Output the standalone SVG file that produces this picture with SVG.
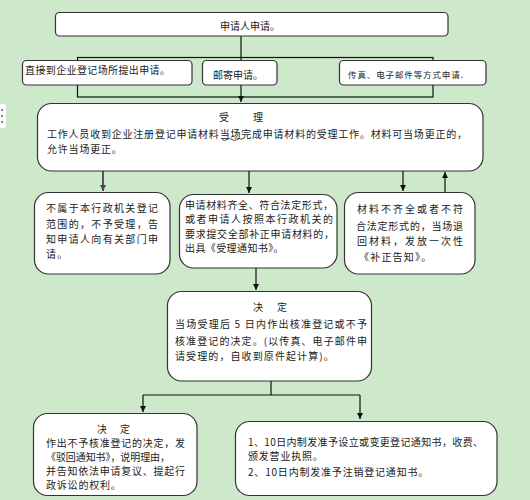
<svg xmlns="http://www.w3.org/2000/svg" width="530" height="500" viewBox="0 0 530 500">
<style>
text{font-family:"Noto Sans CJK SC","Noto Sans",sans-serif;font-size:10px;fill:#222;}
.box{fill:#fff;stroke:#333;stroke-width:1.2;}
.ln{stroke:#111;stroke-width:1.2;fill:none;}
.sm{font-size:8.5px;}
</style>
<defs>
<marker id="ah" markerWidth="6" markerHeight="6" refX="6" refY="3" orient="auto" markerUnits="userSpaceOnUse"><path d="M0,0 L6,3 L0,6 z" fill="#111"/></marker>
<marker id="ahg" markerWidth="6" markerHeight="6" refX="6" refY="3" orient="auto" markerUnits="userSpaceOnUse"><path d="M0,0 L6,3 L0,6 z" fill="#444"/></marker>
</defs>
<rect x="0" y="0" width="530" height="500" fill="#cee8cb"/>
<g id="handle"><rect x="-4" y="104" width="10" height="24" rx="3" fill="#fff"/><circle cx="2" cy="110" r="1.2" fill="#888"/><circle cx="2" cy="116" r="1.2" fill="#888"/><circle cx="2" cy="122" r="1.2" fill="#888"/></g>
<g id="connectors">
<path class="ln" d="M241,36 V102" marker-end="url(#ah)"/>
<path d="M103,171 V191" stroke="#555" stroke-width="2" fill="none" marker-end="url(#ahg)"/>
<path class="ln" d="M249,171 V193" marker-end="url(#ah)"/>
<path class="ln" d="M403,171 V191" marker-end="url(#ah)"/>
<path class="ln" d="M445,192 V172" marker-end="url(#ah)"/>
<path class="ln" d="M256,268 V290" marker-end="url(#ah)"/>
<path class="ln" d="M271,381 V395 M143,395 H360"/>
<path class="ln" d="M143,395 V412" marker-end="url(#ah)"/>
<path class="ln" d="M360,395 V419" marker-end="url(#ah)"/>
</g>
<rect id="group-frame" x="77.5" y="57.5" width="355.5" height="39.5" fill="none" stroke="#111" stroke-width="1.2"/>
<g id="apply">
<rect class="box" x="55.5" y="12.5" width="392.5" height="23.5" rx="4"/>
<text x="250" y="30" text-anchor="middle">申请人申请。</text>
</g>
<g id="direct">
<rect class="box" x="22.5" y="60.5" width="169.5" height="24.5" rx="4"/>
<text x="25" y="74" textLength="145" lengthAdjust="spacing">直接到企业登记场所提出申请。</text>
</g>
<g id="mail">
<rect class="box" x="202.5" y="60.5" width="74.5" height="24.5" rx="4"/>
<text x="213" y="79">邮寄申请。</text>
</g>
<g id="fax">
<rect class="box" x="339.5" y="60.5" width="146.5" height="24.5" rx="4"/>
<text class="sm" x="348" y="78" textLength="115" lengthAdjust="spacing">传真、电子邮件等方式申请.</text>
</g>
<g id="accept">
<rect class="box" x="37.5" y="103.5" width="445.5" height="67.5" rx="14"/>
<text x="219" y="121" letter-spacing="1.33">受　　理</text>
<text x="47" y="138" textLength="420" lengthAdjust="spacing">工作人员收到企业注册登记申请材料当场完成申请材料的受理工作。材料可当场更正的，</text>
<text x="47" y="153" letter-spacing="0.8">允许当场更正。</text>
<path d="M222,139.5 q2.5,2 5,0 t5,0 t5,0 t5,0" fill="none" stroke="#222" stroke-width="0.8"/>
</g>
<g id="reject">
<rect class="box" x="34.5" y="192.5" width="135.5" height="81.5" rx="14"/>
<text x="46" y="212" textLength="112" lengthAdjust="spacing">不属于本行政机关登记</text>
<text x="46" y="228" textLength="112" lengthAdjust="spacing">范围的，不予受理，告</text>
<text x="46" y="243" textLength="112" lengthAdjust="spacing">知申请人向有关部门申</text>
<text x="46" y="258" letter-spacing="1.2">请。</text>
</g>
<g id="complete">
<rect class="box" x="179.5" y="194.5" width="157.5" height="73.5" rx="14"/>
<text x="185" y="209" textLength="148" lengthAdjust="spacing">申请材料齐全、符合法定形式，</text>
<text x="185" y="223" textLength="148" lengthAdjust="spacing">或者申请人按照本行政机关的</text>
<text x="185" y="238" textLength="149" lengthAdjust="spacing">要求提交全部补正申请材料的，</text>
<text x="185" y="252" letter-spacing="0.4">出具《受理通知书》。</text>
</g>
<g id="incomplete">
<rect class="box" x="344.5" y="192.5" width="130.5" height="81.5" rx="14"/>
<text x="357" y="213" textLength="106" lengthAdjust="spacing">材料不齐全或者不符</text>
<text x="356" y="230" textLength="107" lengthAdjust="spacing">合法定形式的，当场退</text>
<text x="357" y="245" textLength="106" lengthAdjust="spacing">回材料，发放一次性</text>
<text x="359" y="261" letter-spacing="1.2">《补正告知》。</text>
</g>
<g id="decide">
<rect class="box" x="167.5" y="291.5" width="204" height="89.5" rx="14"/>
<text x="253" y="311" letter-spacing="2">决　定</text>
<text x="175" y="328" textLength="192" lengthAdjust="spacing">当场受理后 5 日内作出核准登记或不予</text>
<text x="175" y="345" textLength="192" lengthAdjust="spacing">核准登记的决定。(以传真、电子邮件申</text>
<text x="175" y="360" letter-spacing="1.1">请受理的，自收到原件起计算)。</text>
</g>
<g id="deny">
<rect class="box" x="33.5" y="413.5" width="163.5" height="82" rx="14"/>
<text x="97" y="433" letter-spacing="1.5">决　定</text>
<text x="46" y="447" textLength="139" lengthAdjust="spacing">作出不予核准登记的决定，发</text>
<text x="46" y="461" textLength="124" lengthAdjust="spacing">《驳回通知书》，说明理由，</text>
<text x="46" y="475" textLength="139" lengthAdjust="spacing">并告知依法申请复议、提起行</text>
<text x="46" y="489" letter-spacing="0.8">政诉讼的权利。</text>
</g>
<g id="approve">
<rect class="box" x="235.5" y="421.5" width="261.5" height="74" rx="14"/>
<text x="248" y="446" textLength="235" lengthAdjust="spacing">1、10日内制发准予设立或变更登记通知书，收费、</text>
<text x="248" y="460" letter-spacing="0.8">颁发营业执照。</text>
<text x="248" y="476" letter-spacing="0.8">2、10日内制发准予注销登记通知书。</text>
</g>
</svg>
